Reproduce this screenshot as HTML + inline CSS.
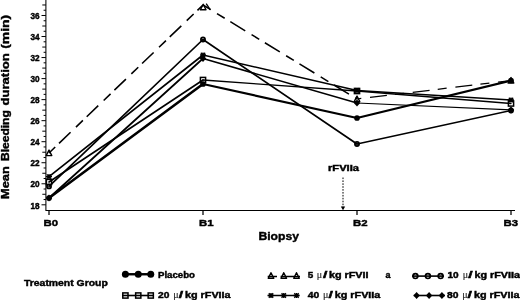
<!DOCTYPE html>
<html><head><meta charset="utf-8"><title>chart</title>
<style>
html,body{margin:0;padding:0;background:#fff;}
body{width:520px;height:300px;overflow:hidden;}
svg{display:block;filter:blur(0.3px);}
text{font-family:"Liberation Sans",sans-serif;font-weight:bold;fill:#000;stroke:#000;stroke-width:0.4px;}
.mu{font-family:"Liberation Serif",serif;font-weight:normal;stroke:#333;stroke-width:0.15px;fill:#222;}
</style></head><body>
<svg width="520" height="300" viewBox="0 0 520 300">
<rect width="520" height="300" fill="#fff"/>

<path d="M45.9,0 V210.5 H515" stroke="#000" stroke-width="1.05" fill="none"/>
<path d="M42.3,4.98 H45.9 M43.6,10.24 H45.9 M41.5,15.49 H45.9 M43.6,20.75 H45.9 M42.3,26.01 H45.9 M43.6,31.27 H45.9 M41.5,36.53 H45.9 M43.6,41.79 H45.9 M42.3,47.05 H45.9 M43.6,52.30 H45.9 M41.5,57.56 H45.9 M43.6,62.82 H45.9 M42.3,68.08 H45.9 M43.6,73.34 H45.9 M41.5,78.60 H45.9 M43.6,83.85 H45.9 M42.3,89.11 H45.9 M43.6,94.37 H45.9 M41.5,99.63 H45.9 M43.6,104.89 H45.9 M42.3,110.15 H45.9 M43.6,115.41 H45.9 M41.5,120.66 H45.9 M43.6,125.92 H45.9 M42.3,131.18 H45.9 M43.6,136.44 H45.9 M41.5,141.70 H45.9 M43.6,146.96 H45.9 M42.3,152.22 H45.9 M43.6,157.47 H45.9 M41.5,162.73 H45.9 M43.6,167.99 H45.9 M42.3,173.25 H45.9 M43.6,178.51 H45.9 M41.5,183.77 H45.9 M43.6,189.02 H45.9 M42.3,194.28 H45.9 M43.6,199.54 H45.9 M41.5,204.80 H45.9" stroke="#000" stroke-width="1" fill="none"/>
<path d="M49,210.5 V215 M203,210.5 V215 M357,210.5 V215 M511,210.5 V215" stroke="#000" stroke-width="1.25" fill="none"/>
<text x="39.6" y="208.50" font-size="8.2" text-anchor="end" stroke-width="0.5">18</text>
<text x="39.6" y="187.47" font-size="8.2" text-anchor="end" stroke-width="0.5">20</text>
<text x="39.6" y="166.43" font-size="8.2" text-anchor="end" stroke-width="0.5">22</text>
<text x="39.6" y="145.40" font-size="8.2" text-anchor="end" stroke-width="0.5">24</text>
<text x="39.6" y="124.36" font-size="8.2" text-anchor="end" stroke-width="0.5">26</text>
<text x="39.6" y="103.33" font-size="8.2" text-anchor="end" stroke-width="0.5">28</text>
<text x="39.6" y="82.30" font-size="8.2" text-anchor="end" stroke-width="0.5">30</text>
<text x="39.6" y="61.26" font-size="8.2" text-anchor="end" stroke-width="0.5">32</text>
<text x="39.6" y="40.23" font-size="8.2" text-anchor="end" stroke-width="0.5">34</text>
<text x="39.6" y="19.19" font-size="8.2" text-anchor="end" stroke-width="0.5">36</text>
<text x="43.6" y="226.4" font-size="9.7" textLength="14.6" lengthAdjust="spacingAndGlyphs">B0</text>
<text x="199" y="226.4" font-size="9.7" textLength="14.6" lengthAdjust="spacingAndGlyphs">B1</text>
<text x="353" y="226.4" font-size="9.7" textLength="14.6" lengthAdjust="spacingAndGlyphs">B2</text>
<text x="503.4" y="226.4" font-size="9.7" textLength="14.6" lengthAdjust="spacingAndGlyphs">B3</text>
<text x="258.4" y="240" font-size="11" textLength="40.6" lengthAdjust="spacingAndGlyphs">Biopsy</text>
<text transform="translate(8.6,198.9) rotate(-90)" font-size="10.6" textLength="32.6" lengthAdjust="spacingAndGlyphs">Mean</text>
<text transform="translate(8.6,161) rotate(-90)" font-size="10.6" textLength="50.8" lengthAdjust="spacingAndGlyphs">Bleeding</text>
<text transform="translate(8.6,105.5) rotate(-90)" font-size="10.6" textLength="52.3" lengthAdjust="spacingAndGlyphs">duration</text>
<text transform="translate(8.6,48.8) rotate(-90)" font-size="10.6" textLength="34" lengthAdjust="spacingAndGlyphs">(min)</text>
<text x="328" y="170.7" font-size="8.2" textLength="31" lengthAdjust="spacingAndGlyphs">rFVIIa</text>
<path d="M343,177.5 V207" stroke="#000" stroke-width="1" stroke-dasharray="1.6 1.3" fill="none"/>
<path d="M340.8,206.5 L345.2,206.5 L343,210.3 Z" fill="#000"/>
<path d="M49,153 L203,5" stroke="#000" stroke-width="1.58" fill="none" stroke-dasharray="9.6 5.3 16 7.5" stroke-dashoffset="1"/>
<path d="M203,5 L357,99" stroke="#000" stroke-width="1.54" fill="none" stroke-dasharray="9 6.6 17.5 7.4" stroke-dashoffset="24.1"/>
<path d="M357,99 L511,80.5" stroke="#000" stroke-width="1.25" fill="none" stroke-dasharray="17 8.2 9 8.8" stroke-dashoffset="29.9"/>
<path d="M49,186.4 L203,39.5" stroke="#000" stroke-width="1.70" fill="none" stroke-linecap="round"/>
<path d="M203,39.5 L357,144" stroke="#000" stroke-width="1.67" fill="none" stroke-linecap="round"/>
<path d="M357,144 L511,110.5" stroke="#000" stroke-width="1.43" fill="none" stroke-linecap="round"/>
<path d="M49,182 L203,80" stroke="#000" stroke-width="1.66" fill="none" stroke-linecap="round"/>
<path d="M203,80 L357,91" stroke="#000" stroke-width="1.28" fill="none" stroke-linecap="round"/>
<path d="M357,91 L511,103.5" stroke="#000" stroke-width="1.29" fill="none" stroke-linecap="round"/>
<path d="M49,176.6 L203,55" stroke="#000" stroke-width="1.69" fill="none" stroke-linecap="round"/>
<path d="M203,55 L357,90.5" stroke="#000" stroke-width="1.44" fill="none" stroke-linecap="round"/>
<path d="M357,90.5 L511,100" stroke="#000" stroke-width="1.27" fill="none" stroke-linecap="round"/>
<path d="M49,198 L203,58.5" stroke="#000" stroke-width="1.69" fill="none" stroke-linecap="round"/>
<path d="M203,58.5 L357,103" stroke="#000" stroke-width="1.49" fill="none" stroke-linecap="round"/>
<path d="M357,103 L511,110" stroke="#000" stroke-width="1.25" fill="none" stroke-linecap="round"/>
<path d="M49,198 L203,84" stroke="#000" stroke-width="2.59" fill="none" stroke-linecap="round"/>
<path d="M203,84 L357,118" stroke="#000" stroke-width="2.21" fill="none" stroke-linecap="round"/>
<path d="M357,118 L511,80.5" stroke="#000" stroke-width="2.24" fill="none" stroke-linecap="round"/>
<path d="M46.2,155.6 L51.8,155.6 L49,150.1 Z" fill="none" stroke="#000" stroke-width="1.4" stroke-linejoin="round"/>
<path d="M200.39999999999998,9.8 L206.0,9.8 L203.2,4.300000000000001 Z" fill="none" stroke="#000" stroke-width="1.4" stroke-linejoin="round"/>
<path d="M206.2,3.6 L210.3,9.8" stroke="#000" stroke-width="1.3" fill="none"/>
<path d="M354.2,101.6 L359.8,101.6 L357,96.1 Z" fill="none" stroke="#000" stroke-width="1.4" stroke-linejoin="round"/>
<path d="M508.2,83.1 L513.8,83.1 L511,77.6 Z" fill="none" stroke="#000" stroke-width="1.4" stroke-linejoin="round"/>
<circle cx="49" cy="186.4" r="2.05" fill="none" stroke="#000" stroke-width="1.8"/>
<circle cx="203" cy="39.5" r="2.05" fill="none" stroke="#000" stroke-width="1.8"/>
<circle cx="357" cy="144" r="2.05" fill="none" stroke="#000" stroke-width="1.8"/>
<circle cx="511" cy="110.5" r="2.05" fill="none" stroke="#000" stroke-width="1.8"/>
<path d="M46,176.6 H52 M49,174.0 V179.2 M46.8,174.4 L51.2,178.79999999999998 M46.8,178.79999999999998 L51.2,174.4" stroke="#000" stroke-width="1.3" fill="none"/>
<path d="M200,55 H206 M203,52.4 V57.6 M200.8,52.8 L205.2,57.2 M200.8,57.2 L205.2,52.8" stroke="#000" stroke-width="1.3" fill="none"/>
<path d="M354,90.5 H360 M357,87.9 V93.1 M354.8,88.3 L359.2,92.7 M354.8,92.7 L359.2,88.3" stroke="#000" stroke-width="1.3" fill="none"/>
<path d="M508,100 H514 M511,97.4 V102.6 M508.8,97.8 L513.2,102.2 M508.8,102.2 L513.2,97.8" stroke="#000" stroke-width="1.3" fill="none"/>
<path d="M45.8,198 L49,194.6 L52.2,198 L49,201.4 Z" fill="#000"/>
<path d="M199.8,58.5 L203,55.1 L206.2,58.5 L203,61.9 Z" fill="#000"/>
<path d="M353.8,103 L357,99.6 L360.2,103 L357,106.4 Z" fill="#000"/>
<path d="M507.8,110 L511,106.6 L514.2,110 L511,113.4 Z" fill="#000"/>
<rect x="46.4" y="179.4" width="5.2" height="5.2" fill="none" stroke="#000" stroke-width="1.5"/>
<rect x="200.4" y="77.4" width="5.2" height="5.2" fill="none" stroke="#000" stroke-width="1.5"/>
<rect x="354.4" y="88.4" width="5.2" height="5.2" fill="none" stroke="#000" stroke-width="1.5"/>
<rect x="508.4" y="100.9" width="5.2" height="5.2" fill="none" stroke="#000" stroke-width="1.5"/>
<circle cx="49" cy="198" r="2.85" fill="#000"/>
<circle cx="203" cy="84" r="2.85" fill="#000"/>
<circle cx="357" cy="118" r="2.85" fill="#000"/>
<circle cx="511" cy="80.5" r="2.85" fill="#000"/>
<text x="24" y="285.9" font-size="8.5" textLength="83.75" lengthAdjust="spacingAndGlyphs">Treatment Group</text>
<path d="M122,274.25 H154" stroke="#000" stroke-width="2.4" fill="none"/>
<circle cx="125.4" cy="274.25" r="3.5" fill="#000"/>
<circle cx="138.25" cy="274.25" r="3.5" fill="#000"/>
<circle cx="150.75" cy="274.25" r="3.5" fill="#000"/>
<text x="158" y="277.6" font-size="8.5" textLength="37" lengthAdjust="spacingAndGlyphs">Placebo</text>
<path d="M122,295.5 H154" stroke="#000" stroke-width="1.6" fill="none"/>
<rect x="122.80000000000001" y="292.9" width="5.2" height="5.2" fill="none" stroke="#000" stroke-width="1.5"/>
<rect x="135.65" y="292.9" width="5.2" height="5.2" fill="none" stroke="#000" stroke-width="1.5"/>
<rect x="148.15" y="292.9" width="5.2" height="5.2" fill="none" stroke="#000" stroke-width="1.5"/>
<text x="158" y="297.8" font-size="8.5" textLength="11.4" lengthAdjust="spacingAndGlyphs">20</text>
<text x="173.2" y="297.8" font-size="10" class="mu">μ</text>
<text x="178.7" y="297.8" font-size="8.5" textLength="4.4" lengthAdjust="spacingAndGlyphs" stroke-width="0.1">/</text>
<text x="185.0" y="297.8" font-size="8.5" textLength="45.6" lengthAdjust="spacingAndGlyphs">kg rFVIIa</text>
<path d="M267.7,276.5 H300" stroke="#000" stroke-width="1.6" stroke-dasharray="9.3 3.6 30 0" fill="none"/>
<path d="M268.2,278.20000000000005 L273.8,278.20000000000005 L271,272.70000000000005 Z" fill="none" stroke="#000" stroke-width="1.4" stroke-linejoin="round"/>
<path d="M280.95,278.20000000000005 L286.55,278.20000000000005 L283.75,272.70000000000005 Z" fill="none" stroke="#000" stroke-width="1.4" stroke-linejoin="round"/>
<path d="M293.7,278.20000000000005 L299.3,278.20000000000005 L296.5,272.70000000000005 Z" fill="none" stroke="#000" stroke-width="1.4" stroke-linejoin="round"/>
<text x="307.7" y="277.6" font-size="8.5" textLength="5.5" lengthAdjust="spacingAndGlyphs">5</text>
<text x="316.8" y="277.6" font-size="10" class="mu">μ</text>
<text x="323.0" y="277.6" font-size="8.5" textLength="4.4" lengthAdjust="spacingAndGlyphs" stroke-width="0.1">/</text>
<text x="328.90000000000003" y="277.6" font-size="8.5" textLength="39.699999999999996" lengthAdjust="spacingAndGlyphs">kg rFVII</text>
<text x="385.6" y="277.6" font-size="8.5" textLength="5" lengthAdjust="spacingAndGlyphs">a</text>
<path d="M267.5,295.5 H299.4" stroke="#000" stroke-width="1.6" fill="none"/>
<path d="M268,295.5 H274 M271,292.9 V298.1 M268.8,293.3 L273.2,297.7 M268.8,297.7 L273.2,293.3" stroke="#000" stroke-width="1.3" fill="none"/>
<path d="M280.75,295.5 H286.75 M283.75,292.9 V298.1 M281.55,293.3 L285.95,297.7 M281.55,297.7 L285.95,293.3" stroke="#000" stroke-width="1.3" fill="none"/>
<path d="M293.5,295.5 H299.5 M296.5,292.9 V298.1 M294.3,293.3 L298.7,297.7 M294.3,297.7 L298.7,293.3" stroke="#000" stroke-width="1.3" fill="none"/>
<text x="307.7" y="297.8" font-size="8.5" textLength="11.5" lengthAdjust="spacingAndGlyphs">40</text>
<text x="322.9" y="297.8" font-size="10" class="mu">μ</text>
<text x="328.4" y="297.8" font-size="8.5" textLength="4.4" lengthAdjust="spacingAndGlyphs" stroke-width="0.1">/</text>
<text x="334.7" y="297.8" font-size="8.5" textLength="45.7" lengthAdjust="spacingAndGlyphs">kg rFVIIa</text>
<path d="M412,276.1 H444" stroke="#000" stroke-width="1.6" fill="none"/>
<circle cx="415.4" cy="276.1" r="2.4" fill="none" stroke="#000" stroke-width="1.7"/>
<circle cx="427.9" cy="276.1" r="2.4" fill="none" stroke="#000" stroke-width="1.7"/>
<circle cx="440.6" cy="276.1" r="2.4" fill="none" stroke="#000" stroke-width="1.7"/>
<text x="447.5" y="277.6" font-size="8.5" textLength="11.25" lengthAdjust="spacingAndGlyphs">10</text>
<text x="462.75" y="277.6" font-size="10" class="mu">μ</text>
<text x="468.2" y="277.6" font-size="8.5" textLength="4.4" lengthAdjust="spacingAndGlyphs" stroke-width="0.1">/</text>
<text x="474.5" y="277.6" font-size="8.5" textLength="45.5" lengthAdjust="spacingAndGlyphs">kg rFVIIa</text>
<path d="M413.7,295.5 H445" stroke="#000" stroke-width="1.6" fill="none"/>
<path d="M413.40000000000003,295.5 L416.6,292.1 L419.8,295.5 L416.6,298.9 Z" fill="#000"/>
<path d="M425.90000000000003,295.5 L429.1,292.1 L432.3,295.5 L429.1,298.9 Z" fill="#000"/>
<path d="M438.7,295.5 L441.9,292.1 L445.09999999999997,295.5 L441.9,298.9 Z" fill="#000"/>
<text x="446.9" y="297.8" font-size="8.5" textLength="11.5" lengthAdjust="spacingAndGlyphs">80</text>
<text x="462.15" y="297.8" font-size="10" class="mu">μ</text>
<text x="467.59999999999997" y="297.8" font-size="8.5" textLength="4.4" lengthAdjust="spacingAndGlyphs" stroke-width="0.1">/</text>
<text x="473.9" y="297.8" font-size="8.5" textLength="45.6" lengthAdjust="spacingAndGlyphs">kg rFVIIa</text>
</svg></body></html>
